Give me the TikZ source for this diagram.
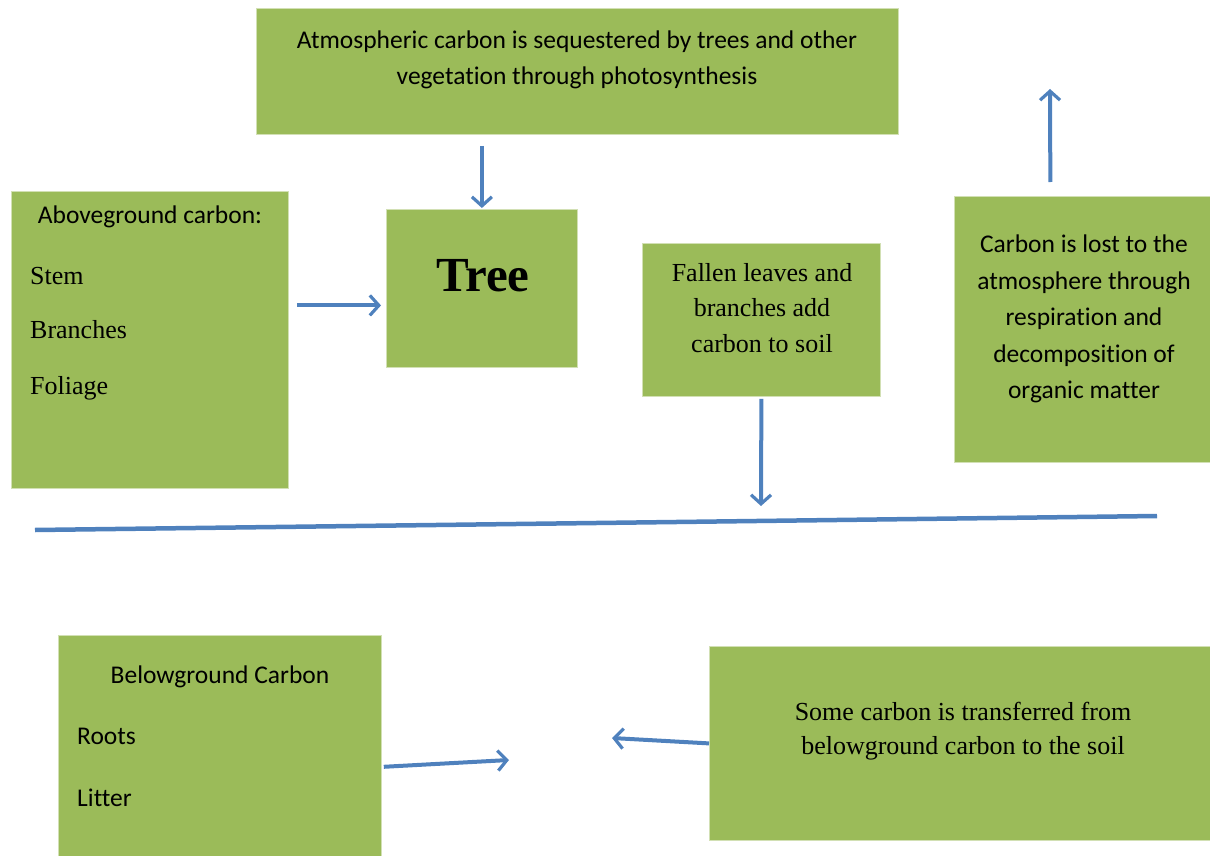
\documentclass[tikz,border=0pt]{standalone}
\usepackage{fontspec}
\setmainfont{Liberation Serif}
\newfontfamily\califont[Ligatures=NoCommon]{Carlito}
\usetikzlibrary{arrows.meta}
\definecolor{boxgreen}{HTML}{9BBB59}
\definecolor{flowblue}{HTML}{4F81BD}
\tikzset{
  cbox/.style={fill=boxgreen, draw=boxgreen!45!white, line width=0.8pt,
    anchor=north west, inner sep=0pt},
  sanstxt/.style={font=\califont\fontsize{25.5}{36.5}\selectfont, align=center, inner sep=0pt},
  seriftxt/.style={font=\fontsize{26}{35.5}\selectfont, align=center, inner sep=0pt},
  flow/.style={draw=flowblue, line width=4pt, -{Straight Barb[length=9pt,width=20pt,line width=3.2pt]}}
}
\begin{document}
\begin{tikzpicture}[x=1pt,y=-1pt]
    \useasboundingbox (0,0) rectangle (1210,856);

    % boxes
    \node[cbox, minimum width=642pt, minimum height=126pt] (atm) at (256,8) {};
    \node[cbox, minimum width=277pt, minimum height=297pt] (above) at (11,191) {};
    \node[cbox, minimum width=191pt, minimum height=158pt] (tree) at (386,209) {};
    \node[cbox, minimum width=238pt, minimum height=153pt] (fallen) at (642,243) {};
    \node[cbox, minimum width=256pt, minimum height=266pt] (lost) at (954,196) {};
    \node[cbox, minimum width=323pt, minimum height=222pt] (below) at (58,635) {};
    \node[cbox, minimum width=501pt, minimum height=194pt] (some) at (709,646) {};

    % texts
    \node[sanstxt] (atmtxt) at (577,60) {Atmospheric carbon is sequestered by trees and other\\vegetation through photosynthesis};
    \node[sanstxt] (abovetxt) at (150,217) {Aboveground carbon:};
    \node[seriftxt, anchor=west] (stem) at (30,276) {Stem};
    \node[seriftxt, anchor=west] (branches) at (30,330) {Branches};
    \node[seriftxt, anchor=west] (foliage) at (30,388) {Foliage};
    \node[font=\bfseries\fontsize{49}{52}\selectfont, inner sep=0pt] (treetxt) at (483,276) {Tree};
    \node[seriftxt] (fallentxt) at (762,308) {Fallen leaves and\\branches add\\carbon to soil};
    \node[sanstxt] (losttxt) at (1084,319) {Carbon is lost to the\\atmosphere through\\respiration and\\decomposition of\\organic matter};
    \node[sanstxt] (belowtxt) at (220,677) {Belowground Carbon};
    \node[sanstxt, anchor=west] (roots) at (77,736) {Roots};
    \node[sanstxt, anchor=west] (litter) at (77,798) {Litter};
    \node[seriftxt, font=\fontsize{26}{34}\selectfont] (sometxt) at (963,731) {Some carbon is transferred from\\belowground carbon to the soil};

    % free ends
    \coordinate (soilpt) at (761,506);
    \coordinate (skypt) at (1050,89);
    \coordinate (soilin) at (509,760);
    \coordinate (soilin2) at (612,738);
    \coordinate (groundl) at (35,530);
    \coordinate (groundr) at (1157,516);

    % connectors
    \draw[flow, shorten <=11pt, shorten >=1pt] (tree.north |- atm.south) -- (tree.north);
    \draw[flow, shorten <=8pt, shorten >=5pt] ([yshift=34.5pt]above.east) -- ([yshift=-17pt]tree.west);
    \draw[flow, shorten <=2pt] (fallen.south) -- (soilpt);
    \draw[flow, shorten <=14pt] ([xshift=-32pt]lost.north) -- (skypt);
    \draw[flow, shorten <=2pt] ([yshift=-20.5pt]below.east) -- (soilin);
    \draw[flow] (some.west) -- (soilin2);
    \draw[flowblue, line width=4.5pt] (groundl) -- (groundr);
\end{tikzpicture}
\end{document}
